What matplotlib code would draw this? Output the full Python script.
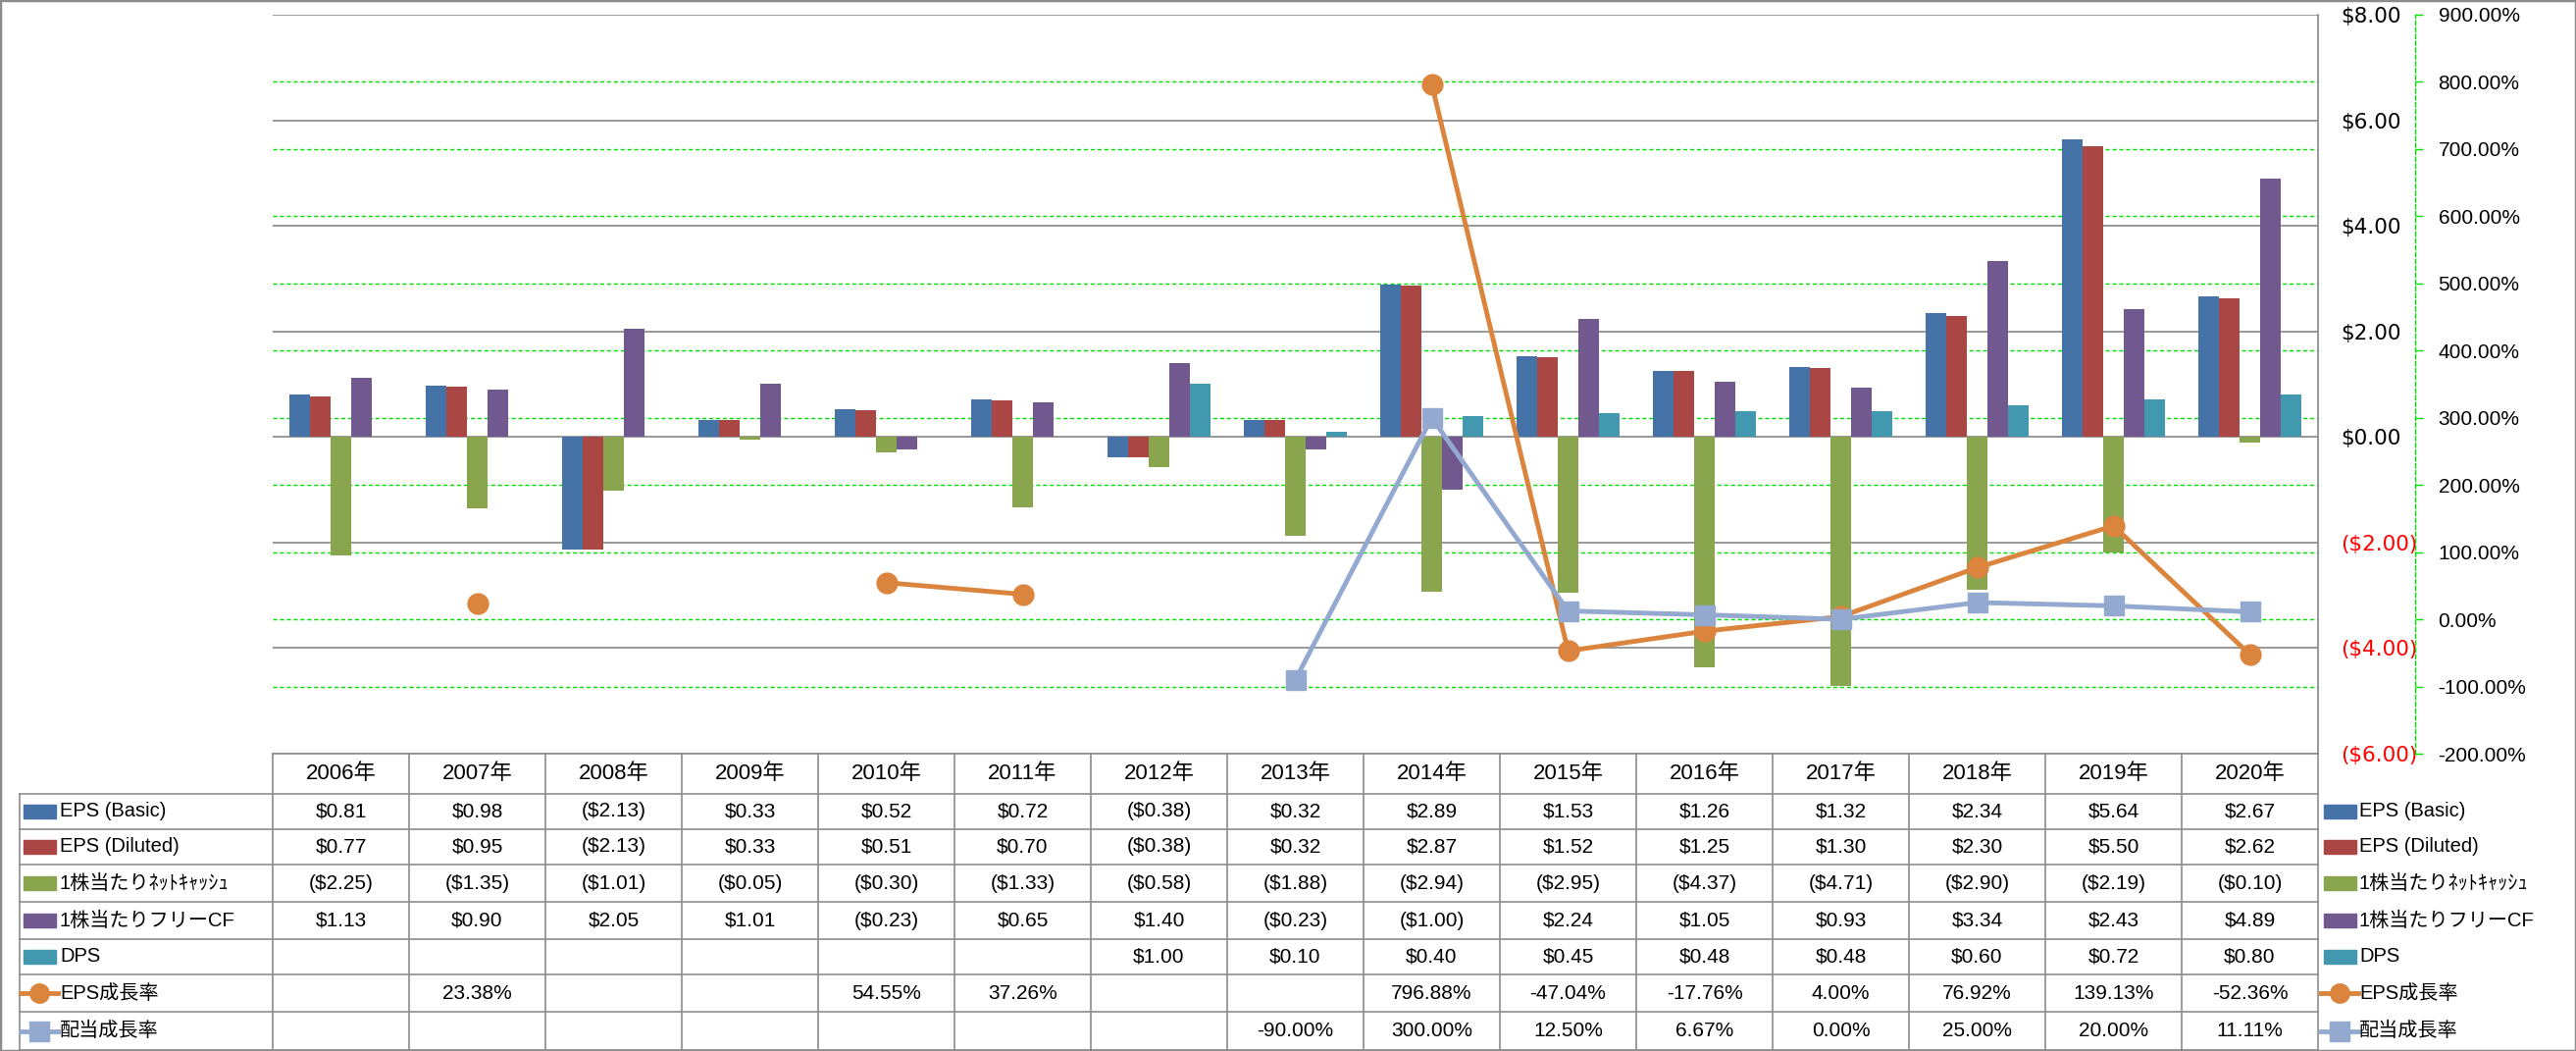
import matplotlib
matplotlib.use("Agg")
import matplotlib.pyplot as plt
from matplotlib import transforms
from matplotlib.lines import Line2D
from matplotlib.patches import Rectangle
from matplotlib.ticker import FuncFormatter
import numpy as np

plt.rcParams['font.family'] = ['Liberation Sans', 'Noto Sans CJK JP', 'DejaVu Sans']

# ---------------- data ----------------
years = ["2006年", "2007年", "2008年", "2009年", "2010年", "2011年", "2012年", "2013年",
         "2014年", "2015年", "2016年", "2017年", "2018年", "2019年", "2020年"]
eps_basic = [0.81, 0.98, -2.13, 0.33, 0.52, 0.72, -0.38, 0.32, 2.89, 1.53, 1.26, 1.32, 2.34, 5.64, 2.67]
eps_diluted = [0.77, 0.95, -2.13, 0.33, 0.51, 0.70, -0.38, 0.32, 2.87, 1.52, 1.25, 1.30, 2.30, 5.50, 2.62]
net_cash = [-2.25, -1.35, -1.01, -0.05, -0.30, -1.33, -0.58, -1.88, -2.94, -2.95, -4.37, -4.71, -2.90, -2.19, -0.10]
free_cf = [1.13, 0.90, 2.05, 1.01, -0.23, 0.65, 1.40, -0.23, -1.00, 2.24, 1.05, 0.93, 3.34, 2.43, 4.89]
dps = [None, None, None, None, None, None, 1.00, 0.10, 0.40, 0.45, 0.48, 0.48, 0.60, 0.72, 0.80]
eps_growth = [None, 23.38, None, None, 54.55, 37.26, None, None, 796.88, -47.04, -17.76, 4.00, 76.92, 139.13, -52.36]
div_growth = [None, None, None, None, None, None, None, -90.00, 300.00, 12.50, 6.67, 0.00, 25.00, 20.00, 11.11]

bar_names = ["EPS (Basic)", "EPS (Diluted)", "1株当たりﾈｯﾄｷｬｯｼｭ", "1株当たりフリーCF", "DPS"]
line_names = ["EPS成長率", "配当成長率"]
bar_series = [eps_basic, eps_diluted, net_cash, free_cf, dps]
line_series = [eps_growth, div_growth]
bar_colors = ["#4572A7", "#AA4643", "#89A54E", "#71588F", "#4198AF"]
line_colors = ["#DB843D", "#93A9CF"]
line_markers = ["o", "s"]

# ---------------- layout ----------------
W, H = 2626, 1071
fig = plt.figure(figsize=(W / 100, H / 100), dpi=100)
fig.patch.set_facecolor("white")

def fy(py):
    return 1 - py / H

def fx(px):
    return px / W

PL, PR, PT, PB = 278, 2363, 15, 768
ax = fig.add_axes([fx(PL), fy(PB), fx(PR - PL), (PB - PT) / H])
ax2 = ax.twinx()

def arr(v):
    return np.array([np.nan if a is None else a for a in v], dtype=float)

x = np.arange(len(years))
bw = 0.152
for i, (s, c) in enumerate(zip(bar_series, bar_colors)):
    ax.bar(x + (i - 2) * bw, arr(s), bw, color=c, zorder=2)

ax.set_xlim(-0.5, len(years) - 0.5)
ax.set_ylim(-6, 8)
ax.set_yticks(np.arange(-6, 9, 2))
ax.set_xticks([])
ax.yaxis.tick_right()
ax.set_axisbelow(True)
ax.yaxis.grid(True, color="#868686", lw=1.2)

def dollar(v, pos=None):
    if v < 0:
        return "(${:.2f})".format(-v)
    return "${:.2f}".format(v)

ax.yaxis.set_major_formatter(FuncFormatter(dollar))
ax.tick_params(axis="y", length=0, pad=17, labelsize=15.5)
for t, v in zip(ax.get_yticklabels(), ax.get_yticks()):
    t.set_color("red" if v < 0 else "black")
    t.set_fontfamily("DejaVu Sans")
for sp in ["top", "left", "bottom"]:
    ax.spines[sp].set_visible(False)
ax.spines["right"].set_color("#868686")
ax.spines["right"].set_linewidth(1.2)

ax2.set_ylim(-200, 900)
pct_ticks = np.arange(-200, 901, 100)
ax2.set_yticks(pct_ticks)
ax2.yaxis.set_major_formatter(FuncFormatter(lambda v, p: "{:.2f}%".format(v)))
ax2.tick_params(axis="y", length=6, width=1, color="#00E000", pad=11, labelsize=15)
for t, v in zip(ax2.get_yticklabels(), ax2.get_yticks()):
    t.set_color("red" if v < 0 else "black")
    t.set_fontfamily("DejaVu Sans")
for sp in ["top", "left", "bottom"]:
    ax2.spines[sp].set_visible(False)
ax2.spines["right"].set_position(("outward", 99 * 0.72))
ax2.spines["right"].set_color("#00E000")
ax2.spines["right"].set_linestyle((0, (3, 2)))
ax2.spines["right"].set_linewidth(1)

# green dashed gridlines of the secondary axis, drawn behind bars
gtrans = transforms.blended_transform_factory(ax.transAxes, ax2.transData)
ax.hlines(pct_ticks[1:-1], 0, 1, transform=gtrans, colors="#00E000", lw=1,
          linestyles=[(0, (3, 2))], zorder=1)

for s, c, m in zip(line_series, line_colors, line_markers):
    ax2.plot(x, arr(s), color=c, lw=3.5, marker=m, ms=15, mfc=c, mec=c, zorder=3)

# ---------------- data table ----------------
grey = "#8C8C8C"
rows_y = [768, 809, 845, 881, 919, 957, 993, 1031, 1070]
tx = transforms.blended_transform_factory(ax.transData, fig.transFigure)

fig.add_artist(Line2D([fx(PL), fx(PR)], [fy(rows_y[0])] * 2, color=grey, lw=1.2))
for yy in rows_y[1:]:
    fig.add_artist(Line2D([fx(20), fx(PR)], [fy(yy)] * 2, color=grey, lw=1.2))
fig.add_artist(Line2D([fx(20), fx(20)], [fy(rows_y[1]), fy(rows_y[-1])], color=grey, lw=1.2))
for i in range(len(years) + 1):
    fig.add_artist(Line2D([i - 0.5, i - 0.5], [fy(rows_y[0]), fy(rows_y[-1])],
                          transform=tx, color=grey, lw=1.2))

def centers(k):
    return fy((rows_y[k] + rows_y[k + 1]) / 2)

for i, yr in enumerate(years):
    fig.text(i, centers(0), yr, transform=tx, ha="center", va="center", fontsize=16)

def fmt_pct(v):
    return "" if v is None else "{:.2f}%".format(v)

def fmt_d(v):
    return "" if v is None else dollar(v)

all_series = bar_series + line_series
for r, s in enumerate(all_series):
    f = fmt_d if r < 5 else fmt_pct
    for i, v in enumerate(s):
        fig.text(i, centers(r + 1), f(v), transform=tx, ha="center", va="center",
                 fontsize=15, parse_math=False)

# legend keys (left in table, right beside table)
names = bar_names + line_names
colors = bar_colors + line_colors
for r, (nm, c) in enumerate(zip(names, colors)):
    cy = (rows_y[r + 1] + rows_y[r + 2]) / 2
    for x0, tx0 in [(24, 61), (2369, 2405)]:
        if r < 5:
            fig.add_artist(Rectangle((fx(x0), fy(cy + 7)), fx(33), 14 / H,
                                     transform=fig.transFigure, color=c))
        else:
            m = line_markers[r - 5]
            fig.add_artist(Line2D([fx(x0 - 3), fx(x0 + 35)], [fy(cy)] * 2, color=c, lw=3.5))
            fig.add_artist(Line2D([fx(x0 + 16)], [fy(cy)], color=c, marker=m, ms=14,
                                  mfc=c, mec=c))
        fig.text(fx(tx0), fy(cy), nm, ha="left", va="center", fontsize=14.5, parse_math=False)

# outer border
fig.add_artist(Rectangle((0, 0), 1, 1, transform=fig.transFigure, fill=False,
                         edgecolor="#8C8C8C", lw=2.5))

fig.savefig("out.png", dpi=100)
